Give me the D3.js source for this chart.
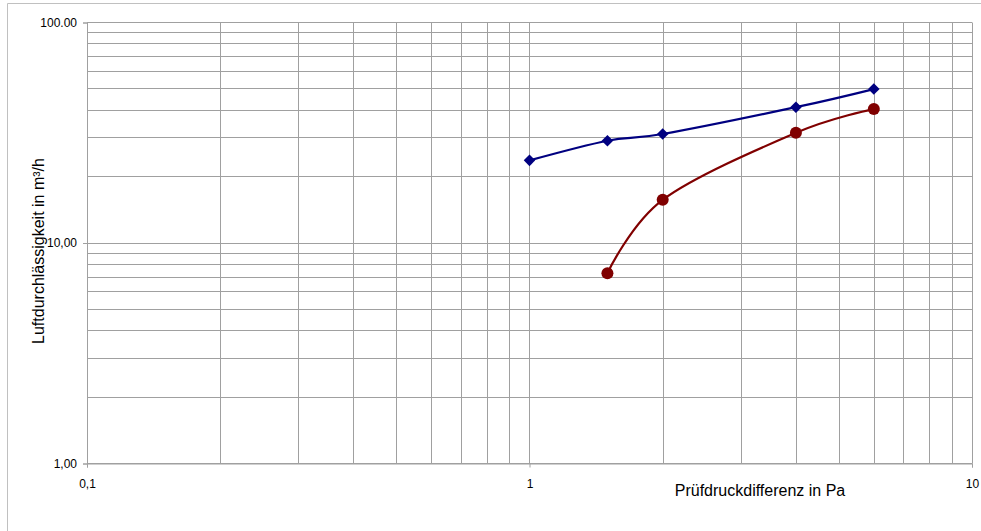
<!DOCTYPE html>
<html><head><meta charset="utf-8">
<script src="https://cdn.jsdelivr.net/npm/d3@7"></script>
<style>body{margin:0;background:#fff;}svg{display:block;font-family:"Liberation Sans",Arial,sans-serif;}</style>
</head><body>
<svg id="c" width="981" height="531"></svg>
<script>
const pressure = [1, 1.5, 2, 4, 6];
const seriesBlue = [23.7, 29.1, 31.2, 41.3, 49.9];
const pressureRed = [1.5, 2, 4, 6];
const seriesRed = [7.3, 15.7, 31.6, 40.5];
const xTickValues = [0.1, 1, 10];
const xTickLabels = ["0,1", "1", "10"];
const yTickValues = [1, 10, 100];
const yTickLabels = ["1,00", "10,00", "100.00"];

const svg = d3.select("#c");
const L = 87, R = 972, T = 22.5, B = 463.5;
const x = d3.scaleLog().domain([0.1, 10]).range([L, R]);
const y = d3.scaleLog().domain([1, 100]).range([B, T]);

// outer frame
svg.append("line").attr("x1", 7.5).attr("x2", 981).attr("y1", 3.5).attr("y2", 3.5).attr("stroke", "#c0c0c0");
svg.append("line").attr("x1", 7.5).attr("x2", 7.5).attr("y1", 3.5).attr("y2", 531).attr("stroke", "#c0c0c0");

// grid
const xg = [];
for (let d = 0.1; d < 10; d *= 10) for (let k = 1; k <= 10; k++) xg.push(+(d * k).toPrecision(3));
const yg = [];
for (let d = 1; d < 100; d *= 10) for (let k = 1; k <= 10; k++) yg.push(+(d * k).toPrecision(3));
const grid = svg.append("g").attr("stroke", "#a0a0a0").attr("stroke-width", 1);
[...new Set(xg)].forEach(v => {
  const px = Math.round(x(v)) + 0.5;
  grid.append("line").attr("x1", px).attr("x2", px).attr("y1", T).attr("y2", B);
});
[...new Set(yg)].forEach(v => {
  const py = Math.round(y(v) - 0.5) + 0.5;
  grid.append("line").attr("x1", L).attr("x2", R).attr("y1", py).attr("y2", py);
});

// axes
const xAxis = d3.axisBottom(x).tickValues(xTickValues).tickFormat((d, i) => xTickLabels[i]).tickSize(4).tickPadding(12);
const gx = svg.append("g").attr("transform", `translate(0,${B})`).call(xAxis);
const yAxis = d3.axisLeft(y).tickValues(yTickValues).tickFormat((d, i) => yTickLabels[i]).tickSize(4).tickPadding(6);
const gy = svg.append("g").attr("transform", `translate(${L},0)`).call(yAxis);
[gx, gy].forEach(g => {
  g.select(".domain").attr("stroke", "#a0a0a0");
  g.selectAll(".tick line").attr("stroke", "#a0a0a0");
  g.selectAll(".tick text").attr("fill", "#000").style("font-size", "12px").style("font-family", "Liberation Sans, Arial, sans-serif");
});
gy.selectAll(".tick text").attr("dy", "0.32em");

// axis titles
svg.append("text").attr("x", 760).attr("y", 496).attr("text-anchor", "middle")
  .style("font-size", "16px").text("Prüfdruckdifferenz in Pa");
svg.append("text").attr("transform", `translate(44,${251}) rotate(-90)`).attr("text-anchor", "middle")
  .style("font-size", "16px").text("Luftdurchlässigkeit in m³/h");

// lines
const line = d3.line().x(d => x(d[0])).y(d => y(d[1])).curve(d3.curveCardinal.tension(0));
const blue = pressure.map((p, i) => [p, seriesBlue[i]]);
const red = pressureRed.map((p, i) => [p, seriesRed[i]]);
svg.append("path").datum(blue).attr("d", line).attr("fill", "none").attr("stroke", "#000080").attr("stroke-width", 2.2);
svg.append("path").datum(red).attr("d", line).attr("fill", "none").attr("stroke", "#800000").attr("stroke-width", 2.2);

// markers
svg.selectAll(".dia").data(blue).join("path").attr("class", "dia")
  .attr("d", d3.symbol().type(d3.symbolDiamond2).size(85))
  .attr("transform", d => `translate(${x(d[0])},${y(d[1])})`)
  .attr("fill", "#000080");
svg.selectAll(".cir").data(red).join("circle").attr("class", "cir")
  .attr("cx", d => x(d[0])).attr("cy", d => y(d[1])).attr("r", 6).attr("fill", "#800000");
</script>
</body></html>
